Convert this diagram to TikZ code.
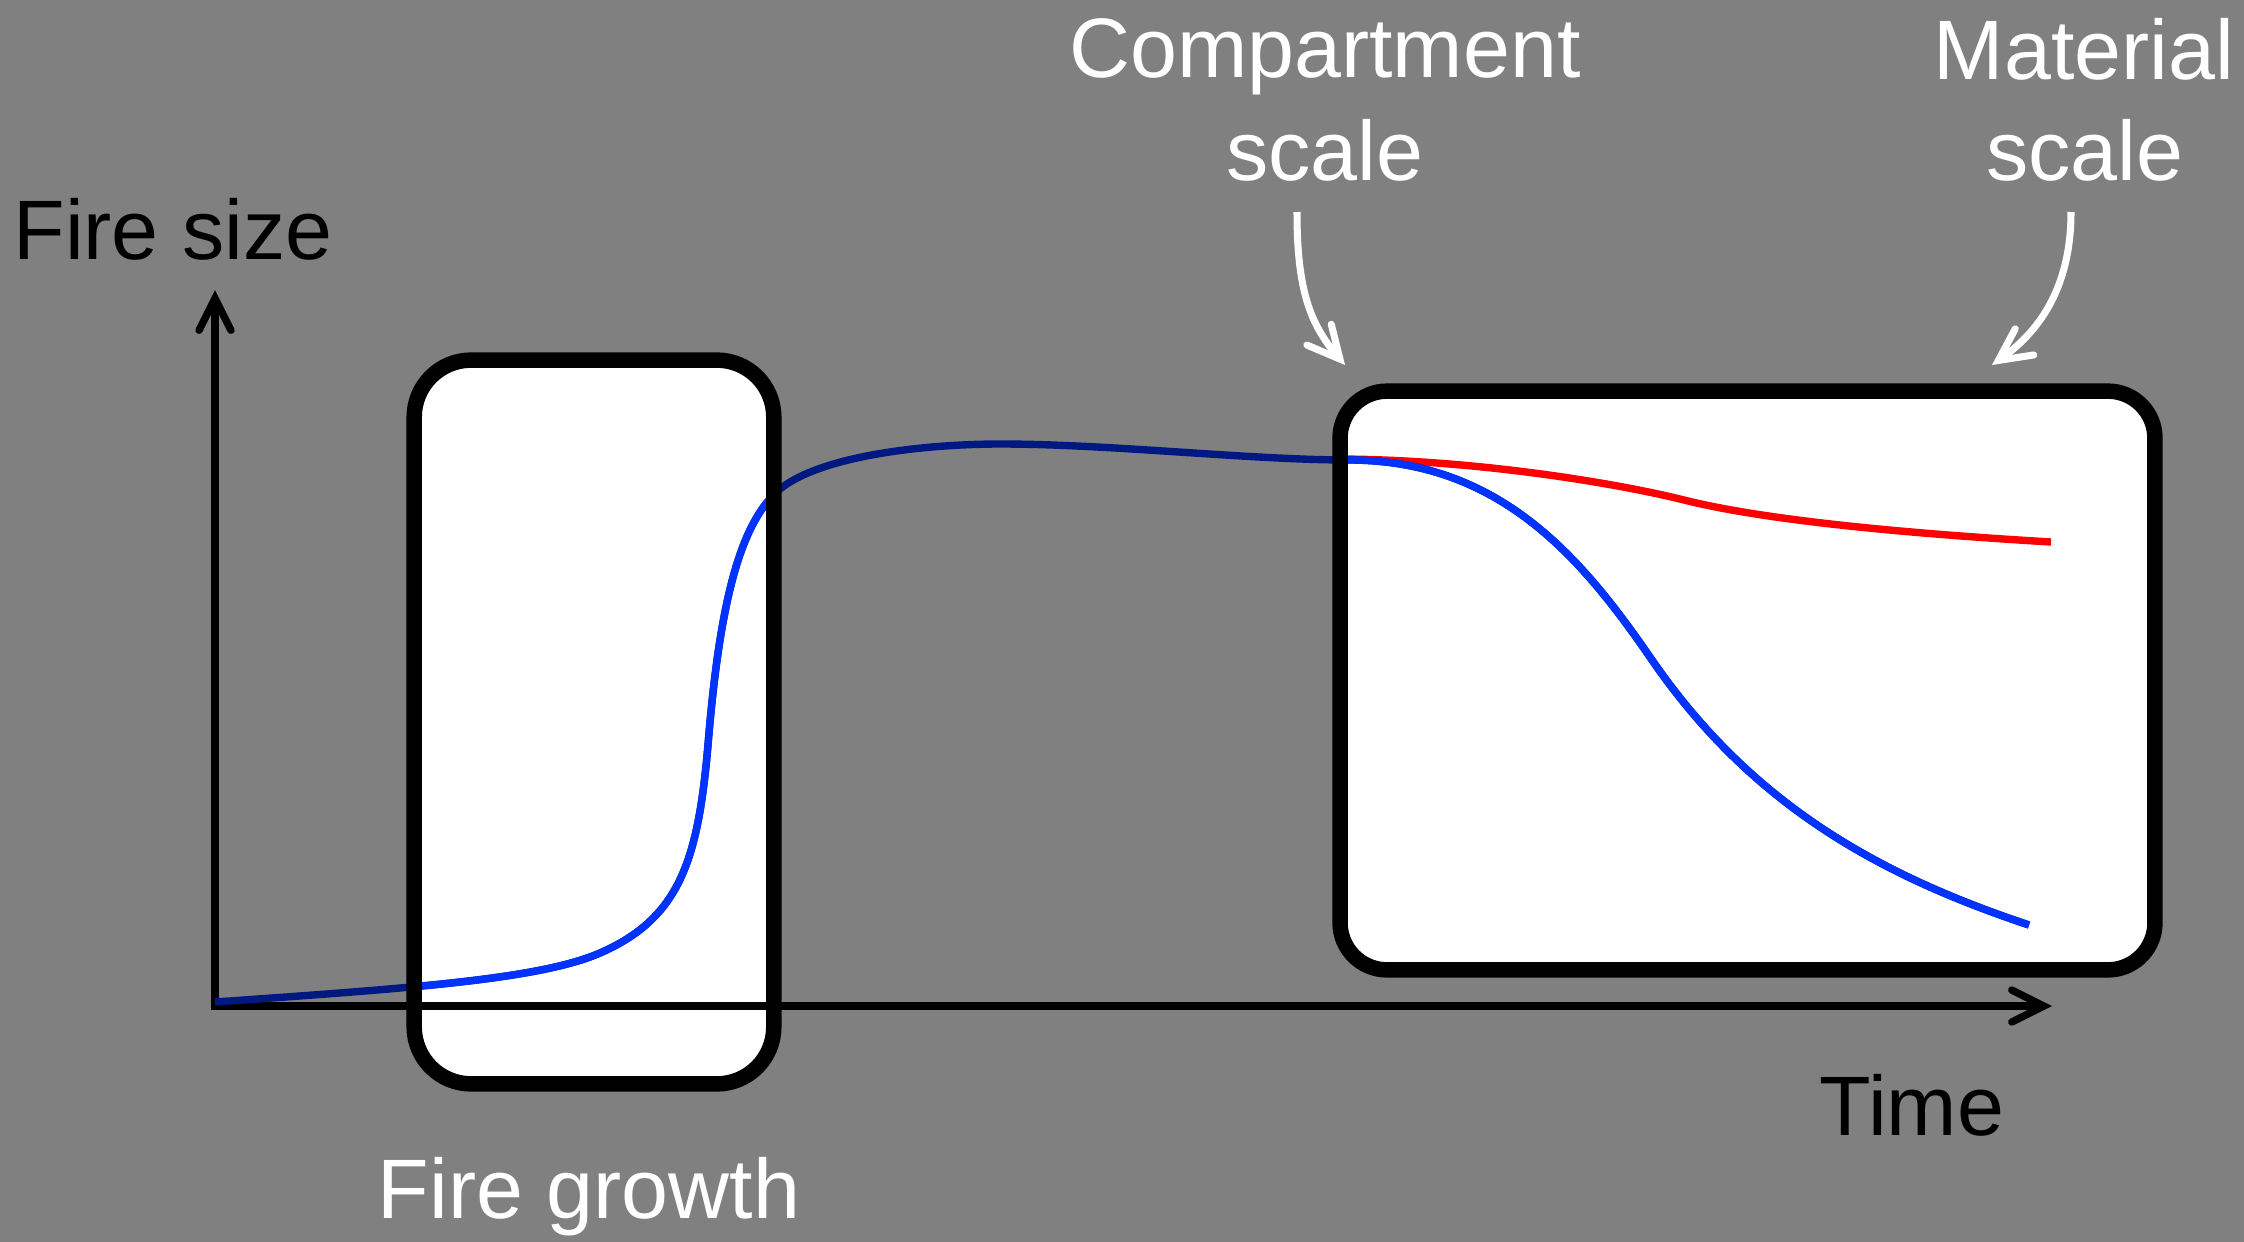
\documentclass[tikz,border=0pt]{standalone}
\usepackage{fontspec}
\setmainfont{Liberation Sans}
\usetikzlibrary{arrows.meta}
\definecolor{bggray}{RGB}{128,128,128}
\definecolor{fireblue}{RGB}{0,51,255}
\definecolor{firenavy}{RGB}{0,25,128}
\definecolor{firered}{RGB}{255,0,0}

\begin{document}
\begin{tikzpicture}[x=0.01cm, y=-0.01cm,
  lbl/.style={inner sep=0pt, anchor=base, font=\fontsize{24}{29}\selectfont},
  scalebox/.style={rectangle, fill=white, inner sep=0pt},
  boxline/.style={draw=black, line width=4.4pt},
  axisline/.style={line width=2.1pt, line join=miter,
    {Straight Barb[length=3.2mm, width=3.2mm, line cap=round]}-{Straight Barb[length=3.2mm, width=3.2mm, line cap=round]}},
  firecurve/.style={line width=2.1pt},
  pointer/.style={white, line width=2pt, -{Straight Barb[length=3.2mm, width=3.2mm, line cap=round]}},
]
  \useasboundingbox (0,0) rectangle (2244,1242);
  \fill[bggray] (0,0) rectangle (2244,1242);

  % the two zoom windows
  \node[scalebox, rounded corners=0.57cm, minimum width=3.58cm, minimum height=7.22cm] (growth) at (594,722) {};
  \node[scalebox, rounded corners=0.47cm, minimum width=8.13cm, minimum height=5.77cm] (decay) at (1747.5,680.5) {};

  % axes
  \coordinate (origin) at (215,1006);
  \coordinate (ytip) at (215,290);
  \coordinate (xtip) at (2052,1006);
  \draw[axisline] (ytip) -- (origin) -- (xtip);

  % fire curves
  \draw[firecurve, firered] (1341,459) .. controls (1480,460) and (1620,484) .. (1684,500)
    .. controls (1764,520) and (1900,533) .. (2051,542);
  \path[save path=\firepath] (215,1002) .. controls (415,988) and (540,979) .. (600,953)
    .. controls (680,918) and (698,860) .. (708,745)
    .. controls (721,585) and (745,509) .. (790,482)
    .. controls (840,452) and (940,444) .. (1000,444)
    .. controls (1110,444) and (1250,460) .. (1349,460)
    .. controls (1500,460) and (1582,558) .. (1652,660)
    .. controls (1752,805) and (1879,875) .. (2029,925);
  \draw[firecurve, firenavy, use path=\firepath];
  \begin{scope}
    \clip[rounded corners=0.57cm] (growth.south west) rectangle (growth.north east);
    \draw[firecurve, fireblue, use path=\firepath];
  \end{scope}
  \begin{scope}
    \clip[rounded corners=0.47cm] (decay.south west) rectangle (decay.north east);
    \draw[firecurve, fireblue, use path=\firepath];
  \end{scope}

  \draw[boxline, rounded corners=0.57cm] (growth.south west) rectangle (growth.north east);
  \draw[boxline, rounded corners=0.47cm] (decay.south west) rectangle (decay.north east);

  % labels
  \node[lbl] (ylbl) at (173,259) {Fire size};
  \node[lbl] (xlbl) at (1912,1135) {Time};
  \node[lbl, text=white] (growthlbl) at (589,1218) {Fire growth};
  \node[lbl, text=white] (complbl) at (1325,77) {Compartment};
  \node[lbl, text=white] (complbl2) at (1325,180) {scale};
  \node[lbl, text=white] (matlbl) at (2084,79) {Material};
  \node[lbl, text=white] (matlbl2) at (2085,180) {scale};

  % pointers
  \coordinate (cstart) at (1297,212);
  \coordinate (ctip) at (1345,365);
  \coordinate (mstart) at (2071,212);
  \coordinate (mtip) at (1992,365);
  \draw[pointer] (cstart) .. controls (1297,290) and (1310,324) .. (ctip);
  \draw[pointer] (mstart) .. controls (2071,290) and (2037,333) .. (mtip);
\end{tikzpicture}
\end{document}
